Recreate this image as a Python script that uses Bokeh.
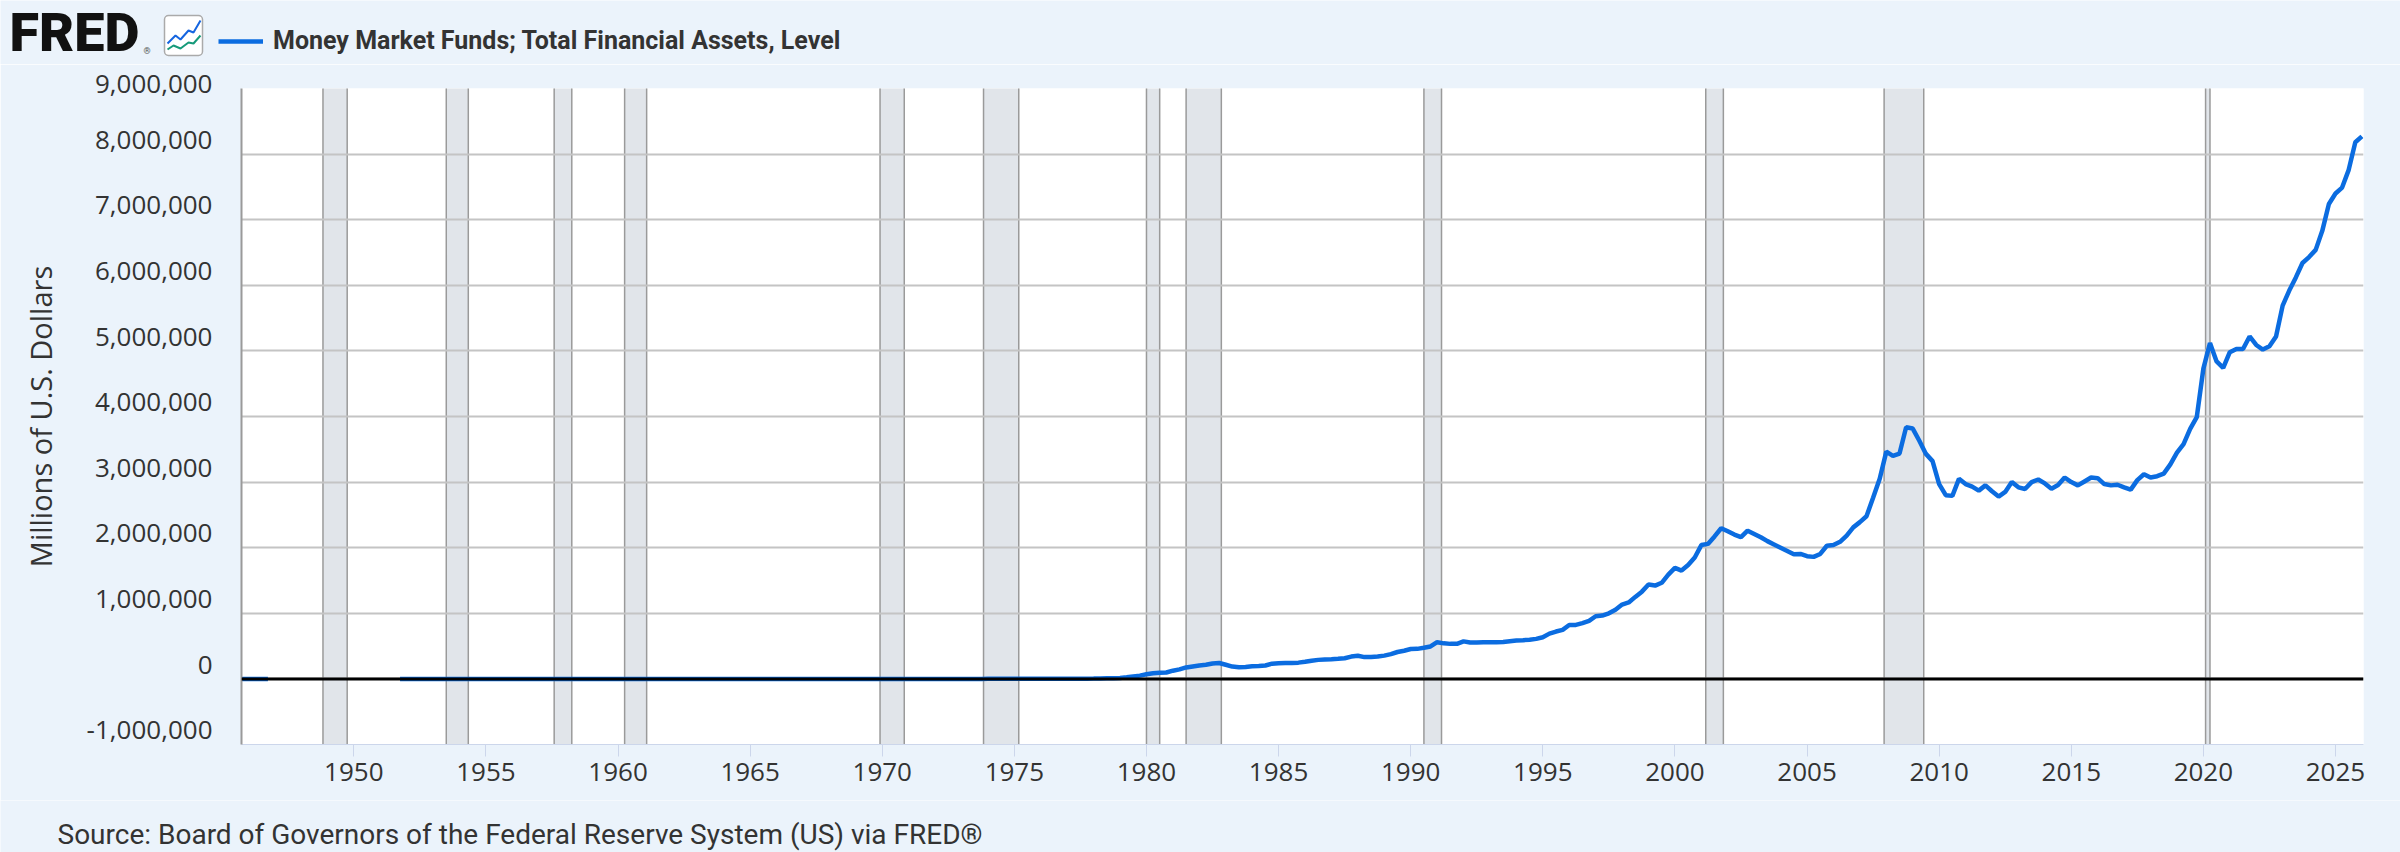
import math
import pandas as pd
from bokeh.plotting import figure
from bokeh.layouts import column, row
from bokeh.models import (Range1d, FixedTicker, CustomJSTickFormatter, Span,
                          Legend, LegendItem, ColumnDataSource)
from bokeh.core.properties import value
from bokeh.embed import file_html
from bokeh.resources import INLINE

# ---------------- data (millions of U.S. dollars, quarterly) ----------------
series_title = "Money Market Funds; Total Financial Assets, Level"
y_axis_title = "Millions of U.S. Dollars"
source_note = "Source: Board of Governors of the Federal Reserve System (US) via FRED®"
logo_text = "FRED"

early_start = "1945Q4"
early_values = [0, 0, 0, 0, 0]

main_start = "1951Q4"
main_values = [
    0,
    0, 0, 0, 0,  0, 0, 0, 0,  0, 0, 0, 0,  0, 0, 0, 0,          # 1952-1955
    0, 0, 0, 0,  0, 0, 0, 0,  0, 0, 0, 0,  0, 0, 0, 0,          # 1956-1959
    0, 0, 0, 0,  0, 0, 0, 0,  0, 0, 0, 0,  0, 0, 0, 0,          # 1960-1963
    0, 0, 0, 0,  0, 0, 0, 0,  0, 0, 0, 0,  0, 0, 0, 0,          # 1964-1967
    0, 0, 0, 0,  0, 0, 0, 0,  0, 0, 0, 0,  0, 0, 0, 0,          # 1968-1971
    0, 0, 0, 0,  0, 0, 0, 0,                                    # 1972-1973
    500, 1000, 1500, 2400,                                      # 1974
    3000, 3400, 3600, 3700,                                     # 1975
    3600, 3500, 3600, 3700,                                     # 1976
    3700, 3800, 3900, 3900,                                     # 1977
    5000, 7000, 9000, 11000,                                    # 1978
    15000, 25000, 38000, 50000,                                 # 1979
    72000, 85000, 92000, 97000,                                 # 1980
    125000, 145000, 175000, 190000,                             # 1981
    205000, 215000, 235000, 242000,                             # 1982
    215000, 188000, 178000, 182000,                             # 1983
    192000, 198000, 205000, 232000,                             # 1984
    240000, 243000, 244000, 248000,                             # 1985
    262000, 278000, 290000, 295000,                             # 1986
    300000, 306000, 315000, 340000,                             # 1987
    354000, 332000, 334000, 340000,                             # 1988
    355000, 378000, 410000, 430000,                             # 1989
    455000, 458000, 475000, 495000,                             # 1990
    560000, 542000, 534000, 534000,                             # 1991
    572000, 556000, 554000, 558000,                             # 1992
    560000, 560000, 563000, 575000,                             # 1993
    585000, 590000, 598000, 610000,                             # 1994
    635000, 690000, 722000, 748000,                             # 1995
    822000, 823000, 850000, 885000,                             # 1996
    955000, 965000, 1000000, 1055000,                           # 1997
    1133000, 1165000, 1250000, 1330000,                         # 1998
    1438000, 1423000, 1465000, 1590000,                         # 1999
    1692000, 1651000, 1735000, 1850000,                         # 2000
    2040000, 2058000, 2172000, 2297000,                         # 2001
    2250000, 2200000, 2160000, 2260000,                         # 2002
    2210000, 2160000, 2100000, 2050000,                         # 2003
    2000000, 1950000, 1900000, 1905000,                         # 2004
    1870000, 1860000, 1905000, 2030000,                         # 2005
    2040000, 2090000, 2185000, 2310000,                         # 2006
    2390000, 2480000, 2760000, 3050000,                         # 2007
    3465000, 3400000, 3435000, 3836000,                         # 2008
    3816000, 3630000, 3430000, 3320000,                         # 2009
    2970000, 2800000, 2790000, 3050000,                         # 2010
    2970000, 2930000, 2870000, 2950000,                         # 2011
    2860000, 2780000, 2850000, 3000000,                         # 2012
    2920000, 2895000, 3000000, 3040000,                         # 2013
    2980000, 2900000, 2955000, 3070000,                         # 2014
    3000000, 2950000, 3010000, 3070000,                         # 2015
    3060000, 2970000, 2950000, 2960000,                         # 2016
    2920000, 2885000, 3030000, 3120000,                         # 2017
    3070000, 3090000, 3130000, 3270000,                         # 2018
    3450000, 3580000, 3810000, 3990000,                         # 2019
    4730000, 5120000, 4840000, 4740000,                         # 2020
    4980000, 5030000, 5030000, 5220000,                         # 2021
    5090000, 5020000, 5070000, 5220000,                         # 2022
    5690000, 5920000, 6120000, 6340000,                         # 2023
    6430000, 6540000, 6830000, 7240000,                         # 2024
    7400000, 7490000, 7760000, 8180000,                         # 2025
    8270000,                                                    # 2026
]

recession_peaks = ["1948-11", "1953-07", "1957-08", "1960-04", "1969-12", "1973-11",
                   "1980-01", "1981-07", "1990-07", "2001-03", "2007-12", "2020-02"]
recession_troughs = ["1949-10", "1954-05", "1958-04", "1961-02", "1970-11", "1975-03",
                     "1980-07", "1982-11", "1991-03", "2001-11", "2009-06", "2020-04"]

x_ticks = [1950, 1955, 1960, 1965, 1970, 1975, 1980, 1985, 1990, 1995, 2000, 2005, 2010, 2015, 2020, 2025]
y_ticks = [-1000000, 0, 1000000, 2000000, 3000000, 4000000, 5000000, 6000000, 7000000, 8000000, 9000000]
x_start, x_end = 1945.75, 2026.06
y_start, y_end = -1000000, 9000000


def quarter_years(start, n):
    per = pd.period_range(start, periods=n, freq="Q")
    return [q.year + (q.quarter - 1) / 4 for q in per]


def month_year(s):
    y, m = s.split("-")
    return int(y) + (int(m) - 1) / 12


xs = quarter_years(early_start, len(early_values)) + [math.nan] + quarter_years(main_start, len(main_values))
ys = list(early_values) + [math.nan] + list(main_values)
line_src = ColumnDataSource(dict(x=xs, y=ys))
rec_src = ColumnDataSource(dict(left=[month_year(s) for s in recession_peaks],
                                right=[month_year(s) for s in recession_troughs]))

# ---------------- styling ----------------
W = 2400
H_HEAD, H_MAIN, H_FOOT = 64, 736, 52
BG = "#EBF3FB"
TXT = "#333333"
BLUE = "#0B6CE0"
FONT = "Open Sans"
LINE_W = 4.5


def blank(height):
    f = figure(width=W, height=height, output_backend="svg", toolbar_location=None,
               x_range=Range1d(0, W), y_range=Range1d(height, 0),
               x_axis_location=None, y_axis_location=None,
               min_border_left=0, min_border_right=0, min_border_top=0, min_border_bottom=0)
    f.grid.visible = False
    f.outline_line_color = None
    f.background_fill_color = BG
    f.border_fill_color = BG
    return f


# ---- header: logo + legend ----
head = blank(H_HEAD)
head.text(x=[9], y=[32], text=[logo_text], text_font=value("'Roboto Black', Roboto"), text_font_style="bold",
          text_font_size="54px", text_color="#111111", text_baseline="middle")
head.text(x=[143], y=[50], text=["®"], text_font=value("Roboto"), text_font_size="9px",
          text_color="#555555", text_baseline="middle")
head.quad(left=[164], right=[202], top=[15], bottom=[55], fill_color="white",
          line_color="#AAAAAA", line_width=1.5, border_radius=4)
head.line(x=[167, 175, 180, 188, 193, 200], y=[43, 35, 39, 30, 32, 20], line_color="#1565E0", line_width=2)
head.line(x=[167, 173, 180, 188, 193, 200], y=[49, 45, 48, 42, 43, 35], line_color="#169A7A", line_width=2)
# legend swatch renderer: same style as the series line, no visible data in the header
swatch = head.line(x=[math.nan], y=[math.nan], line_color=BLUE, line_width=LINE_W)
legend = Legend(items=[LegendItem(label=series_title, renderers=[swatch])], location=(218, 9),
                background_fill_alpha=0, border_line_color=None, padding=0, margin=0,
                glyph_width=45, glyph_height=24, label_height=24, label_standoff=10,
                label_text_font="Roboto", label_text_font_style="bold",
                label_text_font_size="25px", label_text_color=TXT)
head.add_layout(legend)

# ---- main chart ----
p = figure(width=W, height=H_MAIN, output_backend="svg", toolbar_location=None,
           x_range=Range1d(x_start, x_end), y_range=Range1d(y_start, y_end),
           min_border_left=241, min_border_right=37, min_border_top=24, min_border_bottom=56)
p.background_fill_color = "white"
p.border_fill_color = BG
p.outline_line_color = None

rec = p.quad(left="left", right="right", bottom=y_start - 1000000, top=y_end + 1000000, source=rec_src,
             fill_color="#E1E5EA", line_color="#9A9A9A", line_width=1.5)
rec.level = "image"

p.xgrid.visible = False
p.ygrid.grid_line_color = "#C4C4C4"
p.ygrid.grid_line_width = 2

ln = p.line("x", "y", source=line_src, line_color=BLUE, line_width=LINE_W)

p.add_layout(Span(location=0, dimension="width", line_color="black", line_width=3))

xa = p.xaxis[0]
xa.ticker = FixedTicker(ticks=x_ticks)
xa.axis_line_color = "#CCD6EB"
xa.axis_line_width = 1
xa.major_tick_line_color = "#CCD6EB"
xa.major_tick_out = 12
xa.major_tick_in = 0
xa.minor_tick_line_color = None
xa.major_label_text_font = FONT
xa.major_label_text_font_size = "26px"
xa.major_label_text_color = TXT
xa.major_label_standoff = 6

ya = p.yaxis[0]
ya.ticker = FixedTicker(ticks=y_ticks)
# labels sit just above their gridlines (a blank second line lifts the text)
ya.formatter = CustomJSTickFormatter(code="return tick.toLocaleString('en-US') + '\\n';")
ya.axis_line_color = "#9A9A9A"
ya.axis_line_width = 2
ya.major_tick_line_color = None
ya.minor_tick_line_color = None
ya.major_tick_out = 0
ya.major_tick_in = 0
ya.major_label_text_font = FONT
ya.major_label_text_font_size = "26px"
ya.major_label_text_line_height = 0.85
ya.major_label_text_color = TXT
ya.major_label_standoff = 29
ya.axis_label = y_axis_title
ya.axis_label_text_font = FONT
ya.axis_label_text_font_size = "29px"
ya.axis_label_text_font_style = "normal"
ya.axis_label_text_color = TXT
ya.axis_label_standoff = 24

# ---- footer: source note ----
foot = blank(H_FOOT)
foot.text(x=[57], y=[33.5], text=[source_note], text_font=value("Roboto"), text_font_size="28px",
          text_color=TXT, text_baseline="middle")

layout = column(row(head), p, row(foot), spacing=0)
open("out.html", "w").write(file_html(layout, INLINE))
